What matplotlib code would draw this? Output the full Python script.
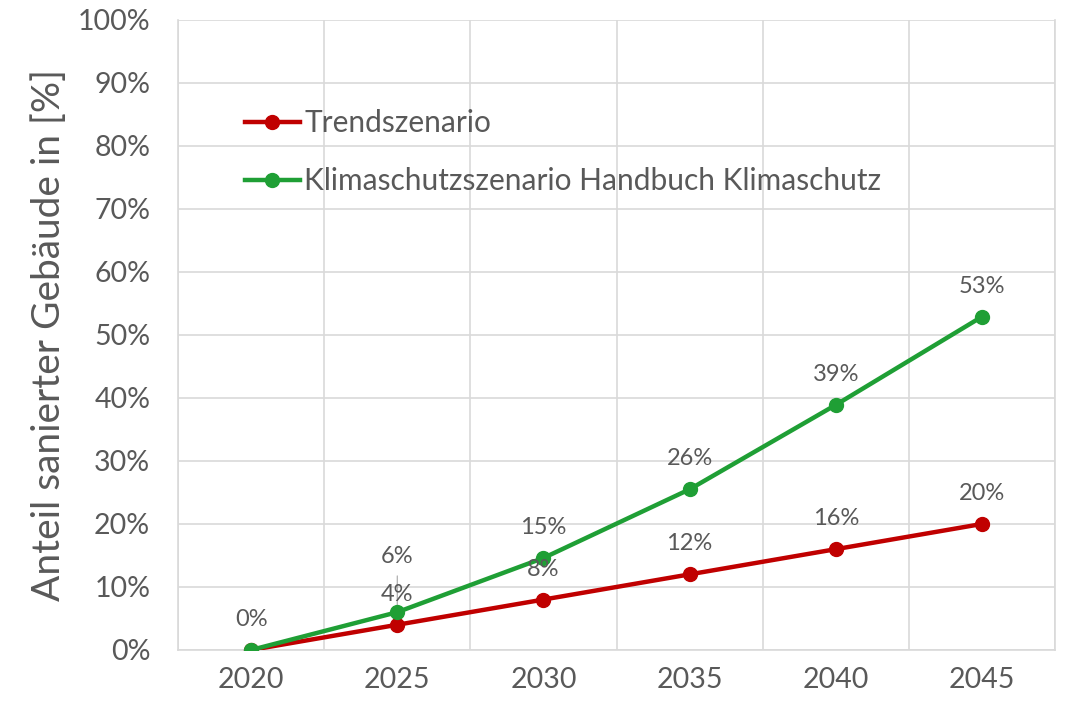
import matplotlib
matplotlib.use("Agg")
import matplotlib.pyplot as plt
import numpy as np

plt.rcParams["font.family"] = ["Lato", "DejaVu Sans"]

years = ["2020", "2025", "2030", "2035", "2040", "2045"]
trend = [0, 4, 8, 12, 16, 20]
klima = [0, 6, 14.6, 25.5, 38.9, 52.9]
trend_labels = ["0%", "4%", "8%", "12%", "16%", "20%"]
klima_labels = ["0%", "6%", "15%", "26%", "39%", "53%"]

red = "#C00000"
green = "#1F9F35"
grey = "#595959"
grid = "#D9D9D9"

fig = plt.figure(figsize=(10.66, 7.01), dpi=100)
ax = fig.add_axes([0.167, 0.0728, 0.8227, 0.8987])

x = np.arange(len(years))
ax.plot(x, trend, color=red, lw=3.2, marker="o", ms=10, label="Trendszenario", zorder=3)
ax.plot(x, klima, color=green, lw=3.2, marker="o", ms=10,
        label="Klimaschutzszenario Handbuch Klimaschutz", zorder=4)

# data labels
for i, (v, s) in enumerate(zip(trend, trend_labels)):
    ax.annotate(s, (x[i], v), xytext=(0, 22), textcoords="offset points",
                ha="center", va="center", fontsize=17, color=grey, zorder=5)
for i, (v, s) in enumerate(zip(klima, klima_labels)):
    dy = 22
    if i == 0:
        continue
    if i == 1:
        dy = 40
        # leader line for the moved label
        ax.annotate("", (x[i], v + 0.6), xytext=(x[i], v + 6.2),
                    arrowprops=dict(arrowstyle="-", color="#A6A6A6", lw=0.8))
    ax.annotate(s, (x[i], v), xytext=(0, dy), textcoords="offset points",
                ha="center", va="center", fontsize=17, color=grey, zorder=5)

ax.set_xlim(-0.5, len(years) - 0.5)
ax.set_ylim(0, 100)
ax.set_xticks(x)
ax.set_xticklabels(years)
ax.set_yticks(np.arange(0, 101, 10))
ax.set_yticklabels([f"{v}%" for v in range(0, 101, 10)])
ax.tick_params(axis="both", length=0, labelsize=20.5, colors=grey)
ax.tick_params(axis="y", pad=20)
ax.tick_params(axis="x", pad=12)

ax.set_xticks(np.arange(-0.5, len(years), 1), minor=True)
ax.tick_params(axis="x", which="minor", length=0)
ax.grid(axis="y", which="major", color=grid, lw=1.2, zorder=0)
ax.grid(axis="x", which="minor", color=grid, lw=1.2, zorder=0)
ax.grid(axis="x", which="major", visible=False)
for sp in ax.spines.values():
    sp.set_color(grid)
    sp.set_linewidth(1.2)
ax.spines["top"].set_visible(False)

ax.set_ylabel("Anteil sanierter Gebäude in [%]", fontsize=28, color=grey, labelpad=8)

leg = ax.legend(loc="upper left", bbox_to_anchor=(0.076, 0.858), frameon=False,
                borderpad=0, borderaxespad=0,
                fontsize=21.5, handlelength=1.85, handletextpad=0.15, labelspacing=1.0,
                labelcolor=grey)

fig.savefig("out.png", dpi=100)
